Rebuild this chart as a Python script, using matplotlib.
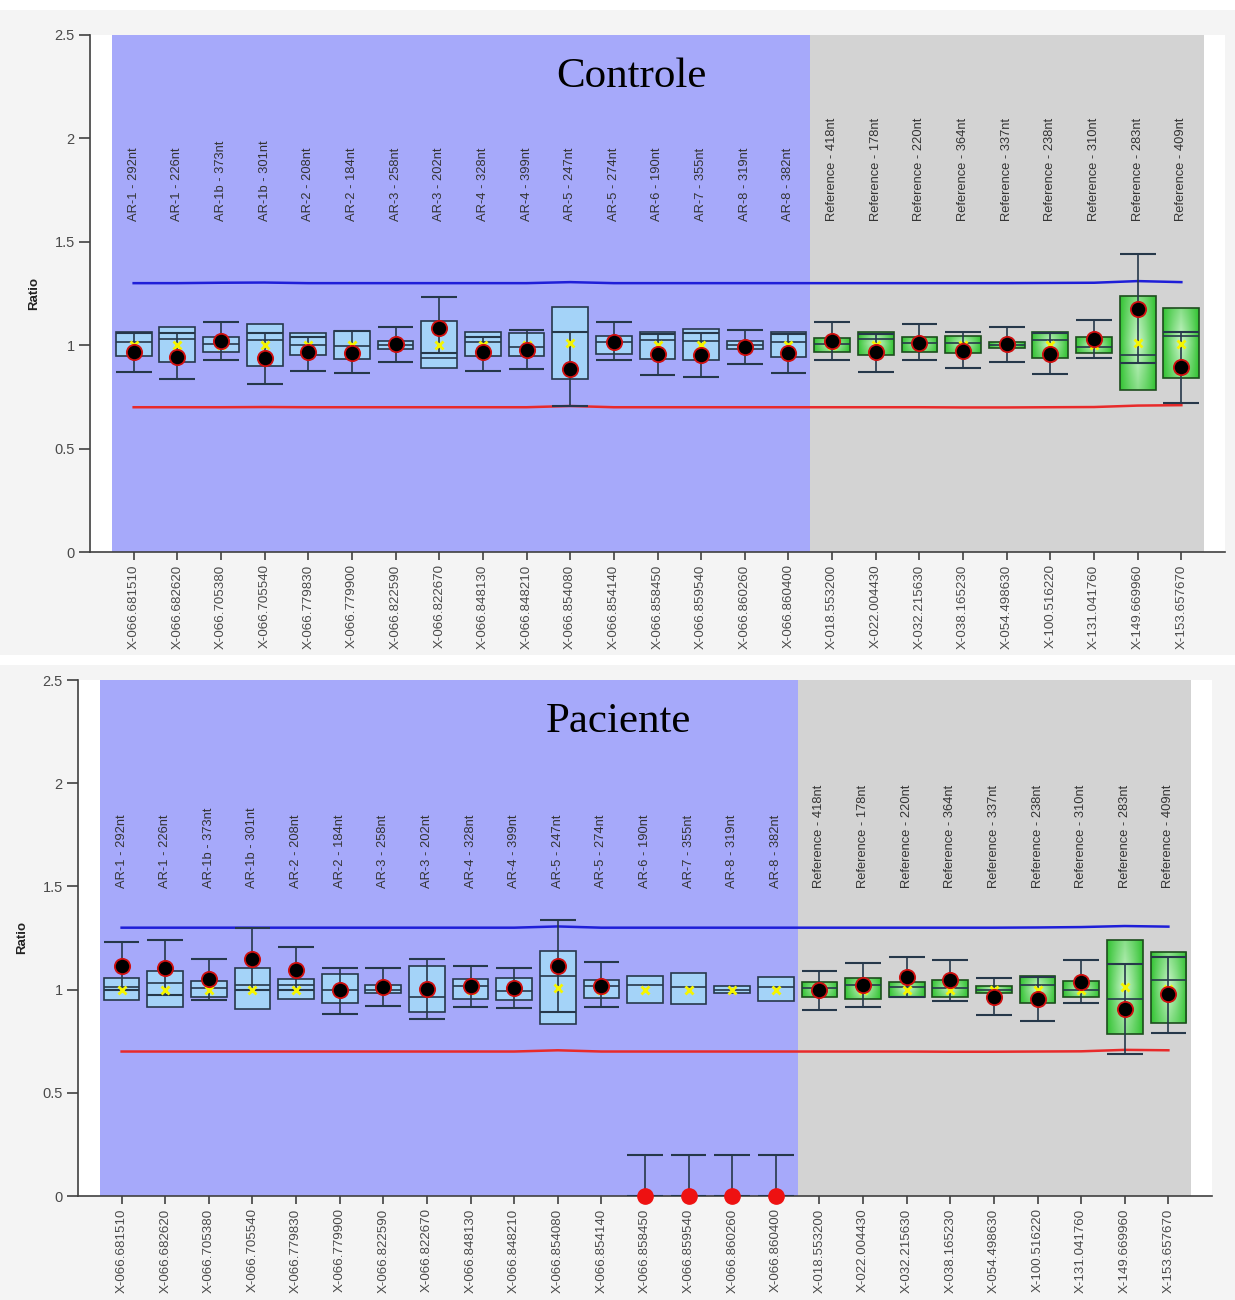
import matplotlib
import matplotlib.pyplot as plt
import numpy as np
from matplotlib.colors import LinearSegmentedColormap
from matplotlib.patches import Rectangle

plt.switch_backend('agg')

# probe names (drawn inside the plot) and tick labels
probes = ["AR-1 - 292nt", "AR-1 - 226nt", "AR-1b - 373nt", "AR-1b - 301nt",
          "AR-2 - 208nt", "AR-2 - 184nt", "AR-3 - 258nt", "AR-3 - 202nt",
          "AR-4 - 328nt", "AR-4 - 399nt", "AR-5 - 247nt", "AR-5 - 274nt",
          "AR-6 - 190nt", "AR-7 - 355nt", "AR-8 - 319nt", "AR-8 - 382nt",
          "Reference - 418nt", "Reference - 178nt", "Reference - 220nt",
          "Reference - 364nt", "Reference - 337nt", "Reference - 238nt",
          "Reference - 310nt", "Reference - 283nt", "Reference - 409nt"]
positions = ["X-066.681510", "X-066.682620", "X-066.705380", "X-066.705540",
             "X-066.779830", "X-066.779900", "X-066.822590", "X-066.822670",
             "X-066.848130", "X-066.848210", "X-066.854080", "X-066.854140",
             "X-066.858450", "X-066.859540", "X-066.860260", "X-066.860400",
             "X-018.553200", "X-022.004430", "X-032.215630", "X-038.165230",
             "X-054.498630", "X-100.516220", "X-131.041760", "X-149.669960",
             "X-153.657670"]
n_ar = 16

# ---- Controle ----
c_wlo = [0.872, 0.835, 0.928, 0.811, 0.877, 0.867, 0.920, 0.961, 0.877, 0.883,
         0.706, 0.928, 0.854, 0.848, 0.909, 0.866, 0.928, 0.872, 0.928, 0.888,
         0.920, 0.861, 0.936, 0.912, 0.719]
c_q1 = [0.948, 0.920, 0.969, 0.901, 0.953, 0.932, 0.983, 0.891, 0.948, 0.948,
        0.835, 0.957, 0.933, 0.928, 0.982, 0.944, 0.969, 0.953, 0.969, 0.964,
        0.985, 0.936, 0.964, 0.783, 0.840]
c_med = [1.017, 1.030, 1.006, 1.025, 1.000, 0.996, 1.001, 0.936, 1.017, 0.990,
         1.062, 1.017, 1.025, 1.020, 1.000, 1.017, 1.006, 1.030, 1.010, 1.009,
         1.000, 1.025, 0.993, 0.953, 1.044]
c_q3 = [1.062, 1.086, 1.038, 1.103, 1.060, 1.070, 1.020, 1.117, 1.062, 1.057,
        1.186, 1.044, 1.065, 1.077, 1.020, 1.062, 1.033, 1.062, 1.038, 1.044,
        1.017, 1.065, 1.041, 1.240, 1.178]
c_whi = [1.058, 1.057, 1.114, 1.057, 1.041, 1.068, 1.090, 1.235, 1.041, 1.073,
         1.065, 1.111, 1.055, 1.057, 1.073, 1.055, 1.111, 1.055, 1.103, 1.065,
         1.086, 1.058, 1.122, 1.440, 1.065]
c_mean = [1.000, 1.000, 1.000, 1.000, 1.000, 1.000, 1.000, 1.000, 1.000, 1.000,
          1.009, 1.000, 1.000, 1.000, 1.000, 1.000, 1.000, 1.000, 1.000, 1.000,
          1.000, 1.000, 1.000, 1.012, 1.005]
c_sample = [0.969, 0.944, 1.020, 0.936, 0.969, 0.961, 1.004, 1.082, 0.969, 0.977,
            0.885, 1.017, 0.956, 0.953, 0.990, 0.964, 1.020, 0.969, 1.012, 0.974,
            1.004, 0.957, 1.028, 1.173, 0.896]
c_upper = [1.300, 1.300, 1.302, 1.303, 1.300, 1.300, 1.300, 1.300, 1.300, 1.300,
           1.305, 1.300, 1.300, 1.300, 1.300, 1.300, 1.300, 1.300, 1.300, 1.300,
           1.300, 1.301, 1.302, 1.310, 1.305]
c_lower = [0.700, 0.700, 0.700, 0.701, 0.700, 0.700, 0.700, 0.700, 0.700, 0.700,
           0.706, 0.700, 0.700, 0.700, 0.700, 0.700, 0.700, 0.700, 0.700, 0.699,
           0.699, 0.700, 0.701, 0.708, 0.710]

# ---- Paciente ----
p_wlo = [0.998, 0.974, 0.950, 0.998, 0.997, 0.882, 0.921, 0.858, 0.914, 0.909,
         0.893, 0.914, 0.0, 0.0, 0.0, 0.0, 0.901, 0.917, 0.963, 0.946,
         0.877, 0.849, 0.934, 0.688, 0.791]
p_q1 = [0.950, 0.917, 0.966, 0.904, 0.953, 0.934, 0.982, 0.890, 0.953, 0.950,
        0.833, 0.958, 0.937, 0.930, 0.985, 0.946, 0.966, 0.954, 0.963, 0.963,
        0.985, 0.937, 0.963, 0.783, 0.840]
p_med = [1.011, 1.031, 1.006, 1.022, 1.022, 0.998, 1.000, 0.963, 1.019, 0.995,
         1.066, 1.017, 1.022, 1.011, 1.000, 1.011, 1.006, 1.022, 1.011, 1.006,
         1.000, 1.022, 0.998, 0.953, 1.047]
p_q3 = [1.055, 1.092, 1.043, 1.106, 1.051, 1.076, 1.022, 1.116, 1.051, 1.055,
        1.187, 1.047, 1.066, 1.079, 1.019, 1.060, 1.035, 1.055, 1.038, 1.047,
        1.019, 1.066, 1.042, 1.240, 1.181]
p_whi = [1.229, 1.240, 1.148, 1.297, 1.208, 1.106, 1.103, 1.147, 1.116, 1.106,
         1.337, 1.132, 0.2, 0.2, 0.2, 0.2, 1.092, 1.127, 1.160, 1.143,
         1.055, 1.060, 1.143, 1.123, 1.160]
p_mean = [1.000, 1.000, 1.000, 1.000, 1.000, 1.000, 1.000, 1.000, 1.000, 1.000,
          1.009, 1.000, 0.998, 1.000, 1.000, 1.000, 1.000, 1.000, 1.000, 1.000,
          1.000, 1.000, 1.000, 1.011, 1.005]
p_sample = [1.114, 1.103, 1.050, 1.147, 1.095, 0.998, 1.011, 1.003, 1.017, 1.006,
            1.114, 1.019, 0.0, 0.0, 0.0, 0.0, 0.998, 1.022, 1.060, 1.047,
            0.966, 0.953, 1.035, 0.904, 0.977]
p_upper = [1.300, 1.300, 1.300, 1.300, 1.300, 1.300, 1.300, 1.300, 1.300, 1.300,
           1.306, 1.300, 1.300, 1.300, 1.300, 1.300, 1.300, 1.300, 1.300, 1.300,
           1.300, 1.301, 1.303, 1.308, 1.305]
p_lower = [0.700, 0.700, 0.700, 0.700, 0.700, 0.700, 0.700, 0.700, 0.700, 0.700,
           0.706, 0.700, 0.700, 0.700, 0.700, 0.700, 0.700, 0.700, 0.700, 0.699,
           0.699, 0.700, 0.701, 0.708, 0.706]

BLUE_BG = '#a6a9fa'
GREY_BG = '#d3d3d3'
AR_FILL = '#a4d3f8'
EDGE = '#26384a'
TXT = '#4a4a4a'
green_cmap = LinearSegmentedColormap.from_list('g', ['#30c230', '#c8f4c8'])

x = np.arange(len(probes))
W = 0.82


def panel(ax, title, wlo, q1, med, q3, whi, mean, sample, upper, lower, label_y):
    ax.set_facecolor('white')
    ax.axvspan(-0.5, n_ar - 0.5, color=BLUE_BG, lw=0, zorder=0)
    ax.axvspan(n_ar - 0.5, len(x) - 0.48, color=GREY_BG, lw=0, zorder=0)

    ax.plot(x, upper, color='#1f1fd8', lw=1.8, zorder=2)
    ax.plot(x, lower, color='#e82a2a', lw=1.8, zorder=2)

    for i in x:
        lo, hi = q1[i], q3[i]
        if i < n_ar:
            ax.bar(i, hi - lo, bottom=lo, width=W, color=AR_FILL,
                   edgecolor=EDGE, lw=1.2, zorder=3)
        else:
            bars = ax.bar(i, hi - lo, bottom=lo, width=W, facecolor='none',
                          edgecolor='#1d4d1d', lw=1.2, zorder=4)
            gx = 1 - np.abs(np.linspace(-1, 1, 40))
            gy = 1 - 0.5 * np.abs(np.linspace(-1, 1, 40))
            grad = np.outer(gy, gx) ** 0.8
            im = ax.imshow(grad, extent=[i - W / 2, i + W / 2, lo, hi],
                           aspect='auto', cmap=green_cmap, zorder=3,
                           interpolation='bilinear')
            im.set_clip_path(bars[0])
        ax.vlines(i, wlo[i], whi[i], color=EDGE, lw=1.2, zorder=5)
        ax.hlines([wlo[i], whi[i]], i - W / 2, i + W / 2, color=EDGE, lw=1.5, zorder=5)
        ax.hlines(med[i], i - W / 2, i + W / 2, color=EDGE, lw=1.2, zorder=5)
        ax.plot(i, mean[i], 'x', color='#f5f500', ms=5.5, mew=2, zorder=6)
        if sample[i] == 0:
            ax.plot(i, sample[i], 'o', color='#ee1111', mec='#ee1111', ms=11,
                    zorder=7, clip_on=False)
        else:
            ax.plot(i, sample[i], 'o', color='black', mec='#d01010', mew=1.3,
                    ms=11, zorder=7)

    for i, name in enumerate(probes):
        ax.text(i, label_y, name, rotation=90, ha='center', va='bottom',
                fontsize=9.3, color='#333333', family='Liberation Sans', zorder=8)
    ax.text(11.4, 2.30, title, ha='center', va='center', fontsize=31,
            family='Liberation Serif', color='black', zorder=8)

    ax.set_xlim(-1.0, 25.0)
    ax.set_ylim(0, 2.5)
    ax.set_xticks(x)
    ax.set_xticklabels(positions, rotation=90, fontsize=9.6, color=TXT,
                       family='Liberation Sans')
    ax.set_yticks([0, 0.5, 1, 1.5, 2, 2.5])
    ax.set_yticklabels(['0', '0.5', '1', '1.5', '2', '2.5'], fontsize=10.5,
                       color=TXT, family='Liberation Sans')
    ax.tick_params(axis='x', length=6, width=1.2, color='#404040', pad=3)
    ax.tick_params(axis='y', length=8, width=1.2, color='#404040', pad=3)
    ax.set_ylabel('Ratio', fontsize=9.5, fontweight='bold', color='#222222',
                  family='Liberation Sans', labelpad=10)
    for s in ['top', 'right']:
        ax.spines[s].set_visible(False)
    for s in ['left', 'bottom']:
        ax.spines[s].set_color('#404040')
        ax.spines[s].set_linewidth(1.2)


fig = plt.figure(figsize=(12.35, 13), dpi=100, facecolor='#f4f4f4')
fig.patches.append(Rectangle((0, 0.4885), 1, 0.008, transform=fig.transFigure,
                             facecolor='white', edgecolor='none', zorder=0))
fig.patches.append(Rectangle((0, 0.992), 1, 0.008, transform=fig.transFigure,
                             facecolor='white', edgecolor='none', zorder=0))

ax1 = fig.add_axes([90 / 1235, (1300 - 552) / 1300, (1225 - 90) / 1235, (552 - 35) / 1300])
ax2 = fig.add_axes([78 / 1235, (1300 - 1196) / 1300, (1212 - 78) / 1235, (1196 - 680) / 1300])

panel(ax1, 'Controle', c_wlo, c_q1, c_med, c_q3, c_whi, c_mean, c_sample,
      c_upper, c_lower, 1.60)
panel(ax2, 'Paciente', p_wlo, p_q1, p_med, p_q3, p_whi, p_mean, p_sample,
      p_upper, p_lower, 1.49)

fig.savefig('out.png', dpi=100, facecolor=fig.get_facecolor())
